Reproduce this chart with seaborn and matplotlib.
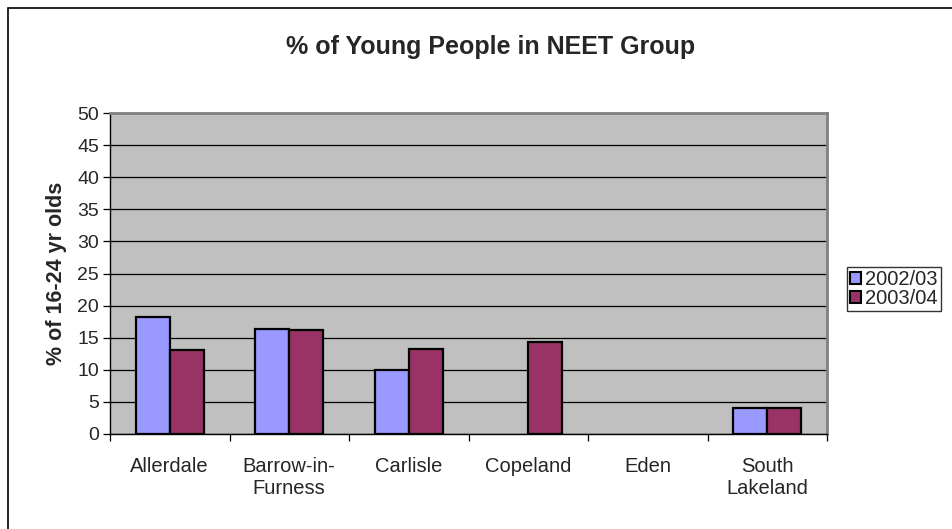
import numpy as np
import pandas as pd
import seaborn as sns
import matplotlib.pyplot as plt
from matplotlib.patches import Rectangle

# Data
areas = ['Allerdale', 'Barrow-in-\nFurness', 'Carlisle', 'Copeland', 'Eden', 'South\nLakeland']
years = ['2002/03', '2003/04']
pct_2002 = [18.2, 16.4, 9.9, np.nan, np.nan, 4.0]
pct_2003 = [13.1, 16.2, 13.3, 14.4, np.nan, 4.0]
colors = ['#9999FF', '#993366']


def main():
    df = pd.DataFrame({
        'area': areas * 2,
        'year': [years[0]] * len(areas) + [years[1]] * len(areas),
        'pct': pct_2002 + pct_2003,
    })

    sns.set_style('white')
    plt.rcParams['font.family'] = ['Liberation Sans', 'DejaVu Sans']

    fig = plt.figure(figsize=(9.52, 5.29), dpi=100)
    ax = fig.add_axes([110 / 952, 1 - 434 / 529, 717 / 952, 321 / 529])
    ax.set_facecolor('#C0C0C0')

    sns.barplot(data=df, x='area', y='pct', hue='year', order=areas, hue_order=years,
                palette=colors, width=0.57, gap=0, edgecolor='black', linewidth=1.6,
                saturation=1, ax=ax, legend=False, zorder=3)

    ax.set_ylim(0, 50)
    ax.set_xlim(-0.5, len(areas) - 0.5)
    ax.set_yticks(range(0, 51, 5))
    ax.yaxis.grid(True, color='black', linewidth=0.9, zorder=0)
    ax.set_axisbelow(True)

    ax.set_xlabel('')
    ax.set_ylabel('% of 16-24 yr olds', fontsize=15.5, fontweight='bold', labelpad=7)
    ax.tick_params(axis='y', left=True, length=5, width=0.9, labelsize=14, pad=3, color='black')
    ax.tick_params(axis='x', bottom=False, labelsize=14.5, pad=13)
    ax.set_xticks(np.arange(-0.5, len(areas), 1.0), minor=True)
    ax.tick_params(axis='x', which='minor', bottom=True, length=5, width=0.9, color='black')
    for lbl in ax.get_xticklabels():
        lbl.set_linespacing(1.2)

    for side in ['top', 'right']:
        ax.spines[side].set_color('#808080')
        ax.spines[side].set_linewidth(2)
    for side in ['left', 'bottom']:
        ax.spines[side].set_color('black')
        ax.spines[side].set_linewidth(1)

    fig.text(491 / 952, 1 - 47 / 529, '% of Young People in NEET Group',
             ha='center', va='center', fontsize=18, fontweight='bold')

    # legend
    handles = [Rectangle((0, 0), 1, 1, facecolor=c, edgecolor='black', linewidth=1.5) for c in colors]
    leg = fig.legend(handles, years, loc='upper left', bbox_to_anchor=(847 / 952, 1 - 267 / 529),
                     fontsize=14.5, frameon=True, fancybox=False, shadow=False,
                     handlelength=0.55, handleheight=0.55, handletextpad=0.2,
                     borderpad=0.15, labelspacing=0.0, borderaxespad=0)
    leg.get_frame().set_edgecolor('black')
    leg.get_frame().set_linewidth(1)

    # outer chart border (cropped on right and bottom)
    fig.patches.append(Rectangle((8 / 952, -0.1), 1.2, 1.1 - 8 / 529, transform=fig.transFigure,
                                 fill=False, edgecolor='black', linewidth=1.2, clip_on=False))

    fig.savefig('out.png', dpi=100)


if __name__ == '__main__':
    main()
